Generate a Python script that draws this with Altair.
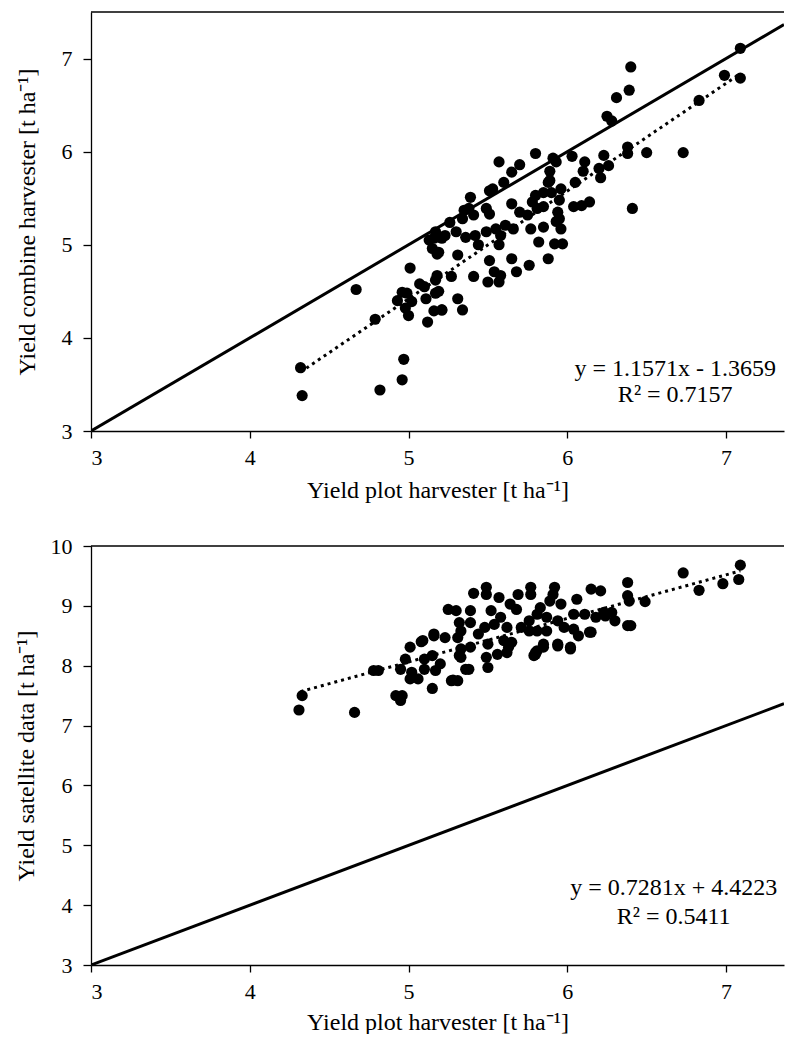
import altair as alt
import pandas as pd

FONT = "Liberation Serif"

# ---- top panel: combine harvester vs plot harvester ----
top_x = [4.32, 4.33, 4.67, 4.79, 4.82, 4.97, 4.96, 5.01, 5.07, 5.10, 4.96, 4.99, 4.93, 5.02, 4.98,
         5.00, 5.11, 5.17, 5.17, 5.12, 5.16, 5.21, 5.16, 5.15, 5.18, 5.21, 7.09, 6.99, 7.09, 6.83,
         6.40, 6.39, 6.31, 6.25, 6.28, 6.73, 6.50, 6.38, 6.38, 6.41, 6.23, 6.26, 6.20, 6.21, 6.11,
         6.10, 6.03, 6.05, 5.91, 5.93, 5.80, 5.89, 5.89, 5.70, 5.65, 5.57, 5.60, 5.53, 5.51, 5.39,
         5.35, 5.41, 5.34, 5.49, 5.51, 5.65, 5.70, 5.75, 5.80, 5.85, 5.90, 5.96, 5.78, 5.81, 5.85,
         5.95, 6.04, 6.09, 6.14, 5.94, 5.95, 5.77, 5.85, 5.96, 5.93, 5.61, 5.55, 5.49, 5.42, 5.36,
         5.30, 5.23, 5.17, 5.19, 5.31, 5.44, 5.57, 5.58, 5.66, 5.82, 5.92, 5.97, 5.88, 5.76, 5.65,
         5.68, 5.58, 5.50, 5.51, 5.54, 5.57, 5.41, 5.27, 5.18, 5.19, 5.31, 5.34, 5.21, 5.38, 5.26,
         5.88, 5.13]
top_y = [3.68, 3.38, 4.52, 4.20, 3.44, 3.77, 3.55, 4.75, 4.58, 4.55, 4.49, 4.48, 4.40, 4.39, 4.32,
         4.24, 4.42, 4.62, 4.48, 4.17, 4.29, 4.30, 5.07, 4.96, 4.90, 5.07, 7.11, 6.82, 6.79, 6.55,
         6.91, 6.66, 6.58, 6.38, 6.33, 5.99, 5.99, 6.05, 5.98, 5.39, 5.96, 5.85, 5.82, 5.72, 5.89,
         5.79, 5.95, 5.67, 5.93, 5.89, 5.98, 5.79, 5.69, 5.86, 5.78, 5.89, 5.67, 5.60, 5.58, 5.51,
         5.37, 5.32, 5.28, 5.39, 5.33, 5.44, 5.35, 5.32, 5.53, 5.56, 5.56, 5.60, 5.46, 5.39, 5.41,
         5.48, 5.41, 5.42, 5.46, 5.35, 5.28, 5.17, 5.19, 5.17, 5.25, 5.21, 5.17, 5.14, 5.10, 5.08,
         5.14, 5.10, 5.14, 4.92, 4.89, 5.00, 5.00, 5.10, 5.17, 5.03, 5.01, 5.01, 4.85, 4.78, 4.85,
         4.71, 4.67, 4.60, 4.83, 4.71, 4.60, 4.66, 4.66, 4.67, 4.50, 4.42, 4.30, 4.30, 5.39, 5.24,
         5.67, 5.05]

# ---- bottom panel: satellite data vs plot harvester ----
bot_x = [4.33, 4.31, 4.66, 4.78, 4.81, 4.92, 4.96, 4.95, 5.01, 5.08, 4.98, 4.95, 5.02, 5.01, 5.06,
         5.10, 5.10, 5.15, 5.16, 5.23, 5.20, 5.17, 5.15, 5.27, 5.25, 5.30, 5.32, 5.31, 5.33, 5.32,
         5.36, 7.09, 7.08, 6.98, 6.83, 6.73, 6.49, 6.38, 6.38, 6.39, 6.38, 6.40, 6.15, 6.21, 6.06,
         6.23, 6.28, 6.30, 6.18, 6.11, 6.04, 6.14, 6.07, 6.02, 5.94, 5.92, 5.91, 5.96, 5.89, 5.83,
         5.81, 5.87, 5.94, 5.98, 6.04, 5.87, 5.81, 5.76, 5.85, 5.81, 5.79, 5.77, 5.77, 5.69, 5.64,
         5.68, 5.76, 5.71, 5.62, 5.57, 5.49, 5.49, 5.41, 5.39, 5.52, 5.58, 5.54, 5.48, 5.39, 5.33,
         5.44, 5.60, 5.63, 5.56, 5.50, 5.39, 5.33, 5.49, 5.50, 5.38, 5.80, 5.31, 5.28, 5.09, 5.16,
         5.62, 5.65, 5.80, 5.85, 5.94, 6.02, 6.15, 6.24]
bot_y = [7.50, 7.26, 7.22, 7.92, 7.92, 7.50, 7.50, 7.42, 8.31, 8.40, 8.11, 7.94, 7.89, 7.78, 7.78,
         8.11, 7.94, 8.17, 8.50, 8.47, 8.03, 7.92, 7.62, 7.75, 8.94, 8.92, 8.72, 8.47, 8.28, 8.17,
         7.94, 9.68, 9.44, 9.37, 9.26, 9.55, 9.07, 9.39, 9.17, 9.08, 8.67, 8.67, 9.28, 9.25, 9.11,
         8.89, 8.89, 8.75, 8.81, 8.86, 8.86, 8.56, 8.50, 8.28, 8.36, 9.31, 9.19, 9.03, 9.08, 8.97,
         8.86, 8.81, 8.75, 8.64, 8.61, 8.58, 8.58, 8.58, 8.36, 8.25, 8.17, 9.31, 9.19, 9.19, 9.03,
         8.94, 8.75, 8.64, 8.64, 9.14, 9.31, 9.19, 9.21, 8.92, 8.92, 8.81, 8.69, 8.64, 8.72, 8.58,
         8.53, 8.42, 8.31, 8.19, 8.36, 8.31, 8.14, 8.14, 7.97, 7.94, 8.22, 7.75, 7.76, 8.42, 8.53,
         8.22, 8.39, 8.19, 8.31, 8.33, 8.31, 8.56, 8.83]

# 1:1 reference line and fitted trend lines (endpoints)
ref_x = [3.0, 7.365]
trend_x = [4.32, 7.09]
trend_top_y = [3.633, 6.838]
trend_bot_y = [7.568, 9.584]

eq_top = ["y = 1.1571x - 1.3659", "R² = 0.7157"]
eq_top_x = [6.68, 6.68]
eq_top_y = [3.67, 3.39]
eq_bot = ["y = 0.7281x + 4.4223", "R² = 0.5411"]
eq_bot_x = [6.67, 6.67]
eq_bot_y = [4.28, 3.80]

X_DOMAIN = [3.0, 7.365]
X_TICKS = [3, 4, 5, 6, 7]
X_TITLE = "Yield plot harvester [t ha⁻¹]"


def panel(px, py, ty, eq, ex, ey, ydom, yticks, ytitle, ytitle_pad, xtitle_pad, width, height):
    xs = alt.Scale(domain=X_DOMAIN, nice=False, zero=False)
    ys = alt.Scale(domain=ydom, nice=False, zero=False)
    xaxis = alt.Axis(values=X_TICKS, title=X_TITLE, format="d", titlePadding=xtitle_pad)
    yaxis = alt.Axis(values=yticks, title=ytitle, format="d", titlePadding=ytitle_pad)

    pts = alt.Chart(pd.DataFrame({"x": px, "y": py})).mark_circle(
        size=125, color="black", opacity=1
    ).encode(x=alt.X("x:Q", scale=xs, axis=xaxis), y=alt.Y("y:Q", scale=ys, axis=yaxis))

    one = alt.Chart(pd.DataFrame({"x": ref_x, "y": ref_x})).mark_line(
        color="black", strokeWidth=3, clip=True
    ).encode(x=alt.X("x:Q", scale=xs), y=alt.Y("y:Q", scale=ys))

    trend = alt.Chart(pd.DataFrame({"x": trend_x, "y": ty})).mark_line(
        color="black", strokeWidth=3, strokeDash=[3, 4]
    ).encode(x=alt.X("x:Q", scale=xs), y=alt.Y("y:Q", scale=ys))

    txt = alt.Chart(pd.DataFrame({"x": ex, "y": ey, "t": eq})).mark_text(
        font=FONT, fontSize=24, color="black", align="center", baseline="middle"
    ).encode(x=alt.X("x:Q", scale=xs), y=alt.Y("y:Q", scale=ys), text="t:N")

    border = alt.Chart(pd.DataFrame({"y": [ydom[1]]})).mark_rule(
        color="black", strokeWidth=1.3
    ).encode(y=alt.Y("y:Q", scale=ys))

    return alt.layer(one, trend, pts, txt, border).properties(width=width, height=height)


top = panel(top_x, top_y, trend_top_y, eq_top, eq_top_x, eq_top_y,
            [3, 7.5], [3, 4, 5, 6, 7], "Yield combine harvester [t ha⁻¹]", 22, 10, 693, 419)
bottom = panel(bot_x, bot_y, trend_bot_y, eq_bot, eq_bot_x, eq_bot_y,
               [3, 10], [3, 4, 5, 6, 7, 8, 9, 10], "Yield satellite data [t ha⁻¹]", 12, 8, 693, 419)

chart = alt.vconcat(top, bottom, spacing=33).properties(
    padding={"left": 6, "top": 3, "right": 0, "bottom": 0}
).configure_view(stroke=None).configure_axis(
    labelFont=FONT, titleFont=FONT, labelFontSize=22, titleFontSize=24,
    titleFontWeight="normal", labelColor="black", titleColor="black",
    domainColor="black", tickColor="black", domainWidth=1.3, tickWidth=1.3,
    grid=False
).configure_axisX(
    tickSize=7, labelPadding=9
).configure_axisY(
    tickSize=8, labelPadding=11
)

chart.save("out.html", embed_options={"renderer": "svg", "actions": False})
